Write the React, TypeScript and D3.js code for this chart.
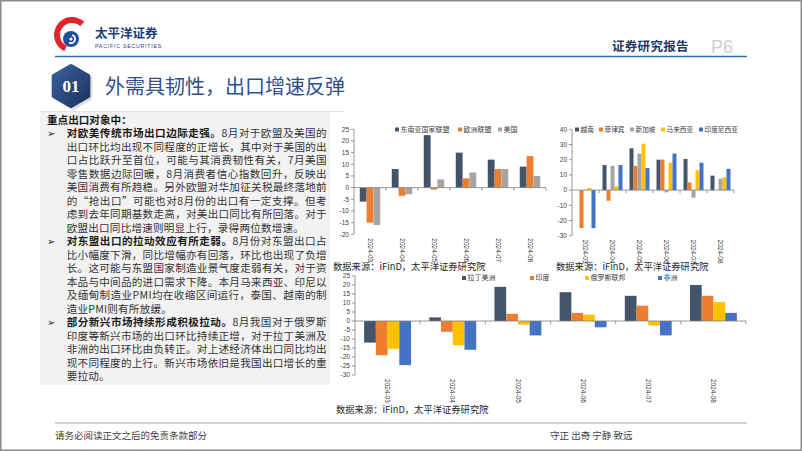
import React from 'react';
import * as d3 from 'd3';

const months = ['2024-03', '2024-04', '2024-05', '2024-06', '2024-07', '2024-08'];

// Chart 1
const c1Names = ['东南亚国家联盟', '欧洲联盟', '美国'];
const aseanVals = [-6, 8, 22.5, 15, 12, 9];
const euVals = [-15, -3.5, -0.8, 4, 8, 13.5];
const usVals = [-16, -2.8, 3.5, 6.5, 8, 5];
const c1Ticks = [-20, -15, -10, -5, 0, 5, 10, 15, 20, 25];

// Chart 2
const c2Names = ['越南', '菲律宾', '新加坡', '马来西亚', '印度尼西亚'];
const vietnamVals = [0, 16.5, 27.5, 20, 20.5, 9.5];
const philippinesVals = [-25, -7, 16, 20, 5, 0];
const singaporeVals = [0.3, 16, 24, -1.5, -5, 7.5];
const malaysiaVals = [1.5, 2.5, 30.5, 18, 13, 8.5];
const indonesiaVals = [-25, 16.5, 14.5, 24, 18, 14];
const c2Ticks = [-30, -20, -10, 0, 10, 20, 30, 40];

// Chart 3
const c3Names = ['拉丁美洲', '印度', '俄罗斯联邦', '非洲'];
const latamVals = [-12, 2, 19, 16, 14, 20];
const indiaVals = [-19, -6, 4, 4.5, 8.5, 14];
const russiaVals = [-15.5, -13.5, -2, 3.5, -2.5, 10.5];
const africaVals = [-24.5, -16, -8, -3.5, -8, 4.5];
const c3Ticks = [-30, -25, -20, -15, -10, -5, 0, 5, 10, 15, 20, 25];

const sourceText = '数据来源：iFinD，太平洋证券研究院';

const NAVY = '#44546A';
const ORANGE = '#ED7D31';
const GRAY = '#A5A5A5';
const YELLOW = '#FFC000';
const BLUE = '#4472C4';

const CJK = '"Noto Sans CJK SC", "Noto Sans", sans-serif';
const LAT = '"Liberation Sans", Arial, sans-serif';

type Series = { name: string; color: string; values: number[] };
type Cfg = {
  x0: number; x1: number; yTop: number; yBot: number;
  domain: [number, number]; ticks: number[]; series: Series[]; inner: number;
  legendX: number[]; legendY: number; legendFont: number; srcX: number; srcY: number;
};

function GroupedBars({ cfg }: { cfg: Cfg }) {
  const { x0, x1, yTop, yBot, domain, ticks, series, inner, legendX, legendY, legendFont, srcX, srcY } = cfg;
  const x = d3.scaleBand<string>().domain(months).range([x0, x1]).padding(0);
  const y = d3.scaleLinear().domain(domain).range([yBot, yTop]);
  const bw = x.bandwidth();
  const xs = d3.scaleBand<string>().domain(series.map(s => s.name))
    .range([bw * (1 - inner) / 2, bw * (1 + inner) / 2]).padding(0);
  const zero = y(0);
  return (
    <g>
      {series.map(s => (
        <g key={s.name}>
          {s.values.map((v, i) => {
            const bx = (x(months[i]) as number) + (xs(s.name) as number);
            return <rect key={i} x={bx} width={xs.bandwidth()} y={Math.min(y(v), zero)} height={Math.abs(y(v) - zero)} fill={s.color} />;
          })}
        </g>
      ))}
      {/* y axis */}
      <line x1={x0} x2={x0} y1={yTop} y2={yBot} stroke="#7F7F7F" strokeWidth={0.8} />
      {ticks.map(t => (
        <g key={t}>
          <line x1={x0 - 3} x2={x0} y1={y(t)} y2={y(t)} stroke="#7F7F7F" strokeWidth={0.8} />
          <text x={x0 - 5} y={y(t)} dy="0.35em" textAnchor="end" fontSize={6.5} fontFamily={LAT} fill="#404040">{t}</text>
        </g>
      ))}
      {/* x axis at zero */}
      <line x1={x0} x2={x1} y1={zero} y2={zero} stroke="#7F7F7F" strokeWidth={0.8} />
      {months.map(m => (
        <line key={'t' + m} x1={(x(m) as number) + bw} x2={(x(m) as number) + bw} y1={zero} y2={zero + 3} stroke="#7F7F7F" strokeWidth={0.8} />
      ))}
      {months.map(m => (
        <text key={'l' + m} transform={`translate(${(x(m) as number) + bw / 2},${yBot + 4}) rotate(90)`} dy="0.35em" fontSize={6.5} fontFamily={LAT} fill="#333333">{m}</text>
      ))}
      {/* legend */}
      {series.map((s, i) => (
        <g key={'lg' + s.name}>
          <rect x={legendX[i]} y={legendY - 2} width={4} height={4} fill={s.color} />
          <text x={legendX[i] + 5.5} y={legendY} dy="0.35em" fontSize={legendFont} fontFamily={CJK} fill="#404040">{s.name}</text>
        </g>
      ))}
      <text x={srcX} y={srcY} dy="0.35em" fontSize={9.3} fontFamily={CJK} fill="#262626">{sourceText}</text>
    </g>
  );
}

const paraLines: { bullet?: boolean; bold?: string; text: string; full: boolean }[] = [
  { bullet: true, bold: '对欧美传统市场出口边际走强。', text: '8月对于欧盟及美国的', full: true },
  { text: '出口环比均出现不同程度的正增长，其中对于美国的出', full: true },
  { text: '口占比跃升至首位，可能与其消费韧性有关，7月美国', full: true },
  { text: '零售数据边际回暖，8月消费者信心指数回升，反映出', full: true },
  { text: '美国消费有所趋稳。另外欧盟对华加征关税最终落地前', full: true },
  { text: '的“抢出口”可能也对8月份的出口有一定支撑。但考', full: true },
  { text: '虑到去年同期基数走高，对美出口同比有所回落。对于', full: true },
  { text: '欧盟出口同比增速则明显上行，录得两位数增速。', full: false },
  { bullet: true, bold: '对东盟出口的拉动效应有所走弱。', text: '8月份对东盟出口占', full: true },
  { text: '比小幅度下滑，同比增幅亦有回落，环比也出现了负增', full: true },
  { text: '长。这可能与东盟国家制造业景气度走弱有关，对于资', full: true },
  { text: '本品与中间品的进口需求下降。本月马来西亚、印尼以', full: true },
  { text: '及缅甸制造业PMI均在收缩区间运行，泰国、越南的制', full: true },
  { text: '造业PMI则有所放缓。', full: false },
  { bullet: true, bold: '部分新兴市场持续形成积极拉动。', text: '8月我国对于俄罗斯', full: true },
  { text: '印度等新兴市场的出口环比持续正增，对于拉丁美洲及', full: true },
  { text: '非洲的出口环比由负转正。对上述经济体出口同比均出', full: true },
  { text: '现不同程度的上行。新兴市场依旧是我国出口增长的重', full: true },
  { text: '要拉动。', full: false },
];

function Logo() {
  const arc = d3.arc<any>();
  const red = arc({ innerRadius: 12, outerRadius: 18, startAngle: -2.7, endAngle: 0.75 }) as string;
  const swirl = arc({ innerRadius: 3.2, outerRadius: 5, startAngle: 0.3, endAngle: 3.6 }) as string;
  return (
    <g>
      <path d={red} transform="translate(72,35)" fill="#E0262B" />
      <circle cx={71} cy={39} r={8} fill="#1F4E9A" />
      <path d={swirl} transform="translate(71,39)" fill="#FFFFFF" />
      <circle cx={71} cy={39} r={1.6} fill="#FFFFFF" />
    </g>
  );
}

export default function App() {
  const c1: Cfg = {
    x0: 354, x1: 546, yTop: 129.3, yBot: 234.3, domain: [-20, 25], ticks: c1Ticks,
    series: [
      { name: c1Names[0], color: NAVY, values: aseanVals },
      { name: c1Names[1], color: ORANGE, values: euVals },
      { name: c1Names[2], color: GRAY, values: usVals },
    ],
    inner: 0.64, legendX: [395, 458, 498], legendY: 129.5, legendFont: 7, srcX: 333, srcY: 266.5,
  };
  const c2: Cfg = {
    x0: 572, x1: 734, yTop: 129.3, yBot: 235.7, domain: [-30, 40], ticks: c2Ticks,
    series: [
      { name: c2Names[0], color: NAVY, values: vietnamVals },
      { name: c2Names[1], color: ORANGE, values: philippinesVals },
      { name: c2Names[2], color: GRAY, values: singaporeVals },
      { name: c2Names[3], color: YELLOW, values: malaysiaVals },
      { name: c2Names[4], color: BLUE, values: indonesiaVals },
    ],
    inner: 0.74, legendX: [575, 599, 630, 661, 699], legendY: 129.5, legendFont: 6.7, srcX: 556, srcY: 267,
  };
  const c3: Cfg = {
    x0: 355, x1: 746, yTop: 276, yBot: 375, domain: [-30, 25], ticks: c3Ticks,
    series: [
      { name: c3Names[0], color: NAVY, values: latamVals },
      { name: c3Names[1], color: ORANGE, values: indiaVals },
      { name: c3Names[2], color: YELLOW, values: russiaVals },
      { name: c3Names[3], color: BLUE, values: africaVals },
    ],
    inner: 0.72, legendX: [462, 530, 585, 658], legendY: 278, legendFont: 7, srcX: 336, srcY: 410,
  };

  const hexR = 20;
  const hexPts = d3.range(6).map(i => {
    const a = (-90 + i * 60) * Math.PI / 180;
    return [71 + hexR * Math.cos(a), 86 + hexR * Math.sin(a)];
  });
  const hexPath = 'M' + hexPts.map(p => p.join(',')).join('L') + 'Z';

  const lineY0 = 120;
  const lineH = 13.5;

  return (
    <svg width={802} height={451} style={{ position: 'absolute', left: 0, top: 0, background: '#fff' }}>
      <defs>
        <linearGradient id="hexg" x1="0" y1="0" x2="1" y2="1">
          <stop offset="0" stopColor="#3A5F9E" />
          <stop offset="1" stopColor="#1B335E" />
        </linearGradient>
      </defs>
      <rect x={0} y={0} width={802} height={451} fill="#fff" />
      <rect x={0.75} y={0.75} width={800.5} height={449.5} fill="none" stroke="#8C8C8C" strokeWidth={1.5} />

      {/* header */}
      <Logo />
      <text x={95} y={37.5} fontSize={12.5} fontWeight={700} fontFamily={CJK} fill="#1F3D7A">太平洋证券</text>
      <text x={95} y={47.5} fontSize={5.2} fontFamily={LAT} fill="#1F3D7A" letterSpacing={0.8}>PACIFIC SECURITIES</text>
      <line x1={55} x2={747} y1={56.5} y2={56.5} stroke="#2E6DB4" strokeWidth={1.5} />
      <text x={612} y={50.5} fontSize={12.5} fontWeight={700} fontFamily={CJK} fill="#1F3864" letterSpacing={0.3}>证券研究报告</text>
      <text x={711} y={52.5} fontSize={18} fontFamily={LAT} fill="#CFCFCF">P6</text>

      {/* section title */}
      <path d={hexPath} transform="translate(2,2)" fill="#C8C8C8" stroke="#C8C8C8" strokeWidth={4} strokeLinejoin="round" opacity={0.6} />
      <path d={hexPath} fill="url(#hexg)" stroke="url(#hexg)" strokeWidth={4} strokeLinejoin="round" />
      <text x={71} y={86} dy="0.35em" textAnchor="middle" fontSize={17} fontWeight={700} fontFamily={'"Liberation Serif", serif'} fill="#fff">01</text>
      <text x={105} y={87} dy="0.35em" fontSize={20} fontFamily={CJK} fill="#2F4F8F">外需具韧性，出口增速反弹</text>
      <line x1={40} x2={345} y1={111.5} y2={111.5} stroke="#E3E3E3" strokeWidth={1} />

      {/* text panel */}
      <rect x={40} y={112} width={290} height={273} fill="#F2F2F2" />
      <text x={47} y={lineY0} dy="0.35em" fontSize={10.6} fontWeight={700} fontFamily={CJK} fill="#1A1A1A">重点出口对象中：</text>
      {paraLines.map((ln, i) => {
        const yy = lineY0 + (i + 1) * lineH;
        return (
          <g key={i}>
            {ln.bullet && <text x={47} y={yy} dy="0.35em" fontSize={10} fontFamily={'"DejaVu Sans", sans-serif'} fill="#262626">➢</text>}
            <text x={66.7} y={yy} dy="0.35em" fontSize={10.6} fontFamily={CJK} fill="#333333"
              {...(ln.full ? { textLength: 260, lengthAdjust: 'spacing' } : { letterSpacing: 0.2 })}>
              {ln.bold && <tspan fontWeight={700} fill="#1A1A1A">{ln.bold}</tspan>}
              <tspan>{ln.text}</tspan>
            </text>
          </g>
        );
      })}

      {/* charts */}
      <GroupedBars cfg={c1} />
      <GroupedBars cfg={c2} />
      <GroupedBars cfg={c3} />

      {/* footer */}
      <line x1={55} x2={747} y1={423} y2={423} stroke="#A6A6A6" strokeWidth={1} />
      <text x={55} y={436} dy="0.35em" fontSize={9.5} fontFamily={CJK} fill="#404040">请务必阅读正文之后的免责条款部分</text>
      <text x={550} y={436} dy="0.35em" fontSize={9.5} fontFamily={CJK} fill="#404040">守正 出奇 宁静 致远</text>
    </svg>
  );
}
